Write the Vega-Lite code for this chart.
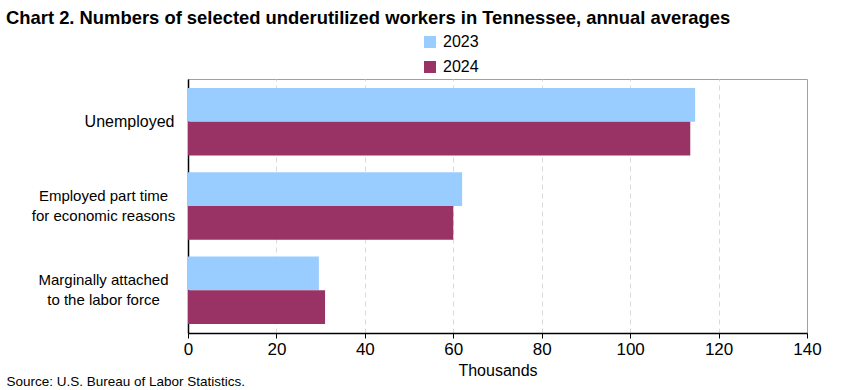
{
  "$schema": "https://vega.github.io/schema/vega-lite/v6.json",
  "width": 619,
  "height": 254,
  "autosize": {"type": "none"},
  "padding": {"left": 188, "top": 79, "right": 34, "bottom": 57},
  "background": "white",
  "title": {
    "text": "Chart 2. Numbers of selected underutilized workers in Tennessee, annual averages",
    "anchor": "start",
    "frame": "group",
    "orient": "top",
    "dx": -182,
    "font": "Liberation Sans",
    "fontSize": 18.4,
    "fontWeight": "bold",
    "color": "#000000",
    "offset": 7
  },
  "data": {
    "values": [
      {"category": "Unemployed", "year": "2023", "value": 114.7},
      {"category": "Unemployed", "year": "2024", "value": 113.6},
      {"category": "Employed part time|for economic reasons", "year": "2023", "value": 62.0},
      {"category": "Employed part time|for economic reasons", "year": "2024", "value": 60.0},
      {"category": "Marginally attached|to the labor force", "year": "2023", "value": 29.6},
      {"category": "Marginally attached|to the labor force", "year": "2024", "value": 31.0}
    ]
  },
  "config": {
    "view": {"stroke": "#a0a0a0", "strokeWidth": 1},
    "font": "Liberation Sans"
  },
  "mark": {"type": "bar"},
  "encoding": {
    "y": {
      "field": "category",
      "type": "nominal",
      "sort": null,
      "scale": {"paddingInner": 0.2, "paddingOuter": 0.107},
      "axis": {
        "title": "Source: U.S. Bureau of Labor Statistics.",
        "titleAngle": 0,
        "titleX": -182,
        "titleY": 306,
        "titleAlign": "left",
        "titleBaseline": "alphabetic",
        "titleFont": "Liberation Sans",
        "titleFontSize": 13.5,
        "titleFontWeight": "normal",
        "titleColor": "#000000",
        "labelExpr": "split(datum.label, '|')",
        "labelFont": "Liberation Sans",
        "labelFontSize": {"condition": {"test": "datum.label == 'Unemployed'", "value": 16}, "value": 15},
        "labelColor": "#000000",
        "labelAlign": "center",
        "labelLineHeight": 20,
        "labelOffset": {"condition": {"test": "datum.label == 'Unemployed'", "value": 0}, "value": -10},
        "labelPadding": {"condition": {"test": "datum.label == 'Unemployed'", "value": 59}, "value": 85},
        "ticks": false,
        "domainColor": "#000000",
        "domainWidth": 1.5,
        "grid": false
      }
    },
    "yOffset": {
      "field": "year",
      "type": "nominal",
      "scale": {"paddingInner": 0, "paddingOuter": 0}
    },
    "x": {
      "field": "value",
      "type": "quantitative",
      "scale": {"domain": [0, 140], "nice": false},
      "axis": {
        "values": [0, 20, 40, 60, 80, 100, 120, 140],
        "title": "Thousands",
        "titleFont": "Liberation Sans",
        "titleFontSize": 16,
        "titleFontWeight": "normal",
        "titleColor": "#000000",
        "titlePadding": 5,
        "labelFont": "Liberation Sans",
        "labelFontSize": 17,
        "labelColor": "#000000",
        "labelPadding": 3,
        "labelFlush": false,
        "labelOverlap": false,
        "tickColor": "#000000",
        "tickSize": 5,
        "domainColor": "#000000",
        "domainWidth": 1.5,
        "grid": true,
        "gridColor": {"condition": {"test": "datum.value == 0 || datum.value == 140", "value": "transparent"}, "value": "#d9d9d9"},
        "gridDash": [5, 4]
      }
    },
    "color": {
      "field": "year",
      "type": "nominal",
      "scale": {"domain": ["2023", "2024"], "range": ["#99ccff", "#993366"]},
      "legend": {
        "title": null,
        "orient": "none",
        "direction": "vertical",
        "legendX": 234,
        "legendY": -45,
        "symbolType": "square",
        "symbolSize": 144,
        "symbolStrokeWidth": 0,
        "rowPadding": 9,
        "labelFont": "Liberation Sans",
        "labelFontSize": 16,
        "labelColor": "#000000",
        "labelOffset": 5
      }
    }
  }
}
